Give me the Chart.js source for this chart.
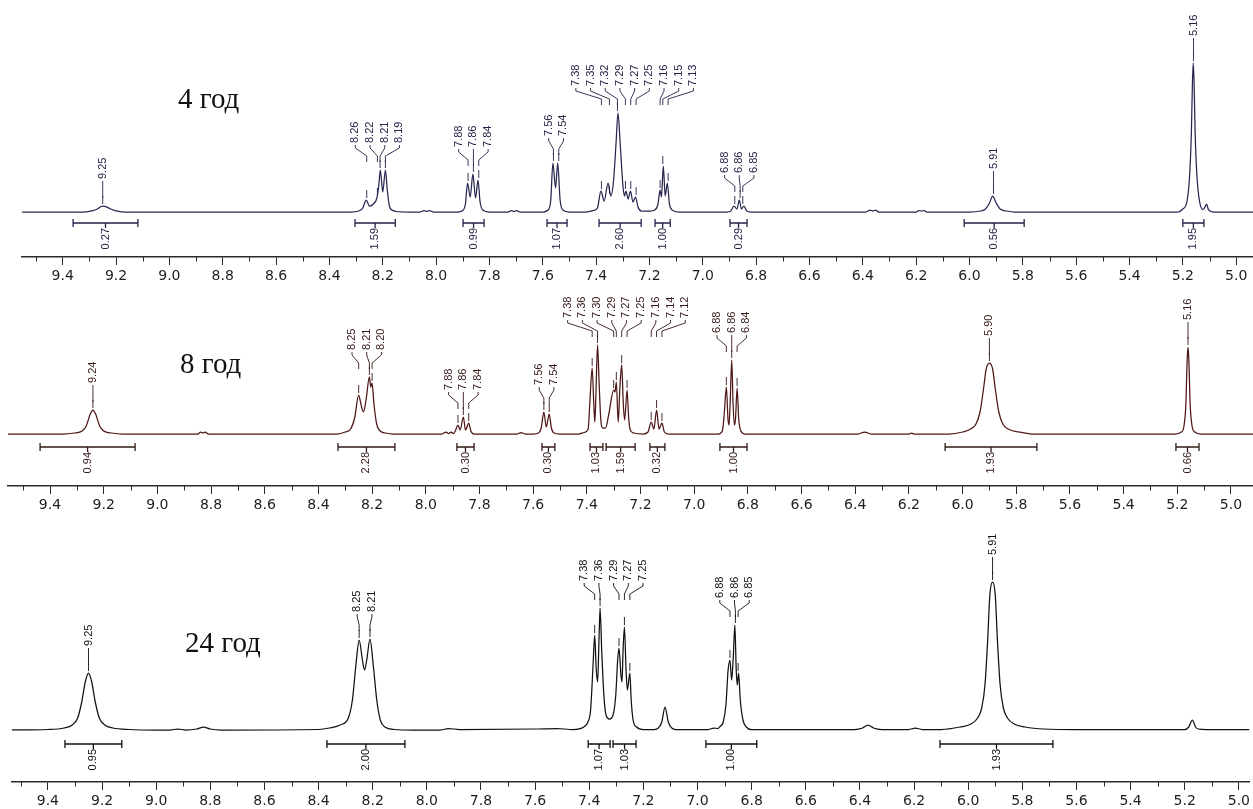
<!DOCTYPE html>
<html><head><meta charset="utf-8">
<script src="https://cdn.jsdelivr.net/npm/chart.js@4.4.1/dist/chart.umd.min.js"></script>
<style>
html,body{margin:0;padding:0;background:#fff;}
#wrap{position:relative;width:1253px;height:809px;overflow:hidden;background:#fff;}
canvas{position:absolute;left:0;}
.ttl{position:absolute;font-family:"Liberation Serif","Times New Roman",serif;font-size:29px;line-height:29px;color:#111;white-space:nowrap;}
</style></head><body>
<div id="wrap">
<canvas id="c1" width="1253" height="290" style="top:0px"></canvas>
<canvas id="c2" width="1253" height="246" style="top:270px"></canvas>
<canvas id="c3" width="1253" height="289" style="top:520px"></canvas>
<div class="ttl" style="left:178px;top:84px">4 год</div>
<div class="ttl" style="left:180px;top:349px">8 год</div>
<div class="ttl" style="left:185px;top:628px">24 год</div>
</div>
<script>
// ---- axis ticks (ppm) ----
const TICK_LABELS = ['9.4','9.2','9.0','8.8','8.6','8.4','8.2','8.0','7.8','7.6','7.4','7.2','7.0','6.8','6.6','6.4','6.2','6.0','5.8','5.6','5.4','5.2','5.0'];
const TICK_VALUES = TICK_LABELS.map(Number);
const MINOR_TICKS = [9.5,9.3,9.1,8.9,8.7,8.5,8.3,8.1,7.9,7.7,7.5,7.3,7.1,6.9,6.7,6.5,6.3,6.1,5.9,5.7,5.5,5.3,5.1];

// ---- spectrum 4 h: [ppm, intensity] ----
const SPEC_4H = [[9.56,0],[9.40,0],[9.33,0],[9.29,1.2],[9.27,3],[9.256,5.5],[9.248,6],[9.238,5.3],[9.22,3],[9.20,1.2],[9.16,0],
[8.60,0],[8.32,0],[8.29,1],[8.275,4],[8.262,12],[8.25,6],[8.235,8],[8.222,14],[8.215,26],[8.209,42],[8.2,20],[8.19,42],[8.183,22],[8.175,6],[8.165,2],[8.15,0.5],[8.1,0],
[8.06,0],[8.045,1.5],[8.035,0.6],[8.025,1.5],[8.01,0],
[7.92,0],[7.9,1.5],[7.89,8],[7.882,29],[7.872,15],[7.862,38],[7.852,14],[7.843,32],[7.835,10],[7.825,2],[7.80,0],
[7.73,0],[7.718,1.5],[7.708,0.5],[7.698,1.5],[7.685,0],
[7.6,0],[7.58,2],[7.57,12],[7.562,49],[7.552,24],[7.544,49],[7.535,12],[7.525,2],[7.5,0],
[7.44,0],[7.41,1.5],[7.395,4],[7.382,21],[7.37,11],[7.355,29],[7.345,16],[7.335,30],[7.325,70],[7.318,99],[7.31,70],[7.30,28],[7.294,16],[7.288,21],[7.28,13],[7.271,21],[7.262,10],[7.252,15],[7.243,5],[7.23,1],
[7.2,1],[7.18,2],[7.168,8],[7.16,22],[7.155,15],[7.148,46],[7.141,16],[7.133,29],[7.125,8],[7.115,2],[7.09,0],
[6.91,0],[6.895,1],[6.883,6],[6.872,3],[6.863,12],[6.855,3],[6.846,6],[6.835,1],[6.82,0],
[6.39,0],[6.372,2],[6.362,1],[6.352,2],[6.34,0],
[6.2,0],[6.19,1.5],[6.18,1],[6.17,1.5],[6.16,0],
[6.0,0],[5.96,1],[5.94,3],[5.925,9],[5.913,16],[5.9,9],[5.885,3],[5.86,1],[5.83,0],
[5.22,0],[5.20,3],[5.185,10],[5.175,35],[5.168,80],[5.164,130],[5.161,149],[5.158,130],[5.154,80],[5.147,35],[5.137,10],[5.125,2.5],[5.117,5],[5.111,8],[5.105,3],[5.095,0.5],[5.08,0],[4.93,0]];
const LABELS_4H = [[9.25],[8.26,8.22,8.21,8.19],[7.88,7.86,7.84],[7.56,7.54],[7.38,7.35,7.32,7.29,7.27,7.25,7.16,7.15,7.13],[6.88,6.86,6.85],[5.91],[5.16]];
const INTEGRALS_4H = [[9.361,9.118,'0.27'],[8.304,8.153,'1.59'],[7.899,7.820,'0.99'],[7.584,7.509,'1.07'],[7.389,7.231,'2.60'],[7.179,7.122,'1.00'],[6.898,6.834,'0.29'],[6.02,5.795,'0.56'],[5.20,5.121,'1.95']];

// ---- spectrum 8 h ----
const SPEC_8H = [[9.56,0],[9.35,0],[9.31,1],[9.28,3],[9.265,8],[9.25,20],[9.24,24],[9.23,20],[9.215,8],[9.2,3],[9.17,1],[9.13,0],
[8.85,0],[8.838,2],[8.83,1],[8.822,2],[8.81,0],
[8.33,0],[8.3,2],[8.28,5],[8.265,16],[8.25,39],[8.24,28],[8.232,22],[8.222,35],[8.21,57],[8.205,47],[8.2,51],[8.193,30],[8.183,10],[8.17,3],[8.15,1],[8.12,0],
[7.94,0],[7.925,2],[7.915,0.5],[7.905,2],[7.897,0.5],[7.89,3],[7.88,9],[7.872,4],[7.86,17],[7.852,4],[7.84,11],[7.832,3],[7.82,0],
[7.66,0],[7.645,1.5],[7.63,0],
[7.6,0],[7.58,1],[7.57,6],[7.56,22],[7.551,7],[7.54,20],[7.532,6],[7.522,1],[7.5,0],
[7.43,0],[7.41,1.5],[7.395,5],[7.389,30],[7.38,66],[7.374,30],[7.37,12],[7.366,40],[7.36,89],[7.354,50],[7.348,15],[7.34,6],[7.33,6],[7.318,20],[7.30,44],[7.295,42],[7.29,52],[7.283,12],[7.277,45],[7.27,69],[7.264,30],[7.259,14],[7.25,44],[7.244,16],[7.238,4],[7.225,1],
[7.19,0],[7.172,2],[7.16,12],[7.15,5],[7.14,24],[7.131,5],[7.12,11],[7.111,2],[7.095,0],
[6.91,0],[6.895,3],[6.888,20],[6.88,47],[6.874,15],[6.87,9],[6.866,30],[6.86,74],[6.855,30],[6.85,9],[6.846,15],[6.84,46],[6.834,15],[6.826,3],[6.81,0],
[6.39,0],[6.365,2],[6.34,0],[6.2,0],[6.19,0.8],[6.18,0],
[6.05,0],[6.0,2],[5.97,5],[5.95,10],[5.935,22],[5.922,45],[5.912,65],[5.9,71],[5.888,65],[5.878,45],[5.865,22],[5.85,10],[5.83,5],[5.79,2],[5.74,0],
[5.21,0],[5.185,2],[5.175,8],[5.168,30],[5.163,75],[5.16,87],[5.157,75],[5.152,30],[5.145,8],[5.135,2],[5.11,0],[4.91,0]];
const LABELS_8H = [[9.24],[8.25,8.21,8.20],[7.88,7.86,7.84],[7.56,7.54],[7.38,7.36,7.30,7.29,7.27,7.25,7.16,7.14,7.12],[6.88,6.86,6.84],[5.90],[5.16]];
const INTEGRALS_8H = [[9.437,9.083,'0.94'],[8.327,8.115,'2.28'],[7.884,7.820,'0.30'],[7.567,7.519,'0.30'],[7.388,7.340,'1.03'],[7.328,7.220,'1.59'],[7.165,7.109,'0.32'],[6.904,6.803,'1.00'],[6.065,5.723,'1.93'],[5.205,5.119,'0.66']];

// ---- spectrum 24 h ----
const SPEC_24H = [[9.54,0],[9.4,0.5],[9.34,2],[9.31,5],[9.29,12],[9.275,28],[9.262,48],[9.25,57],[9.238,48],[9.225,28],[9.21,12],[9.19,5],[9.16,2],[9.1,0.5],[9.0,0],
[8.95,0],[8.92,1],[8.89,0],[8.85,1],[8.825,3],[8.8,1],[8.76,0],
[8.4,0.5],[8.36,2],[8.32,5],[8.29,12],[8.275,30],[8.262,65],[8.25,90],[8.238,70],[8.23,60],[8.222,70],[8.21,91],[8.198,65],[8.185,30],[8.172,10],[8.155,3],[8.12,0.5],[8.05,0],
[7.95,0],[7.92,1.5],[7.88,0.5],[7.6,1],[7.52,1.5],
[7.46,0.5],[7.42,3],[7.405,8],[7.395,20],[7.385,70],[7.38,95],[7.374,60],[7.369,48],[7.364,90],[7.36,122],[7.354,80],[7.346,35],[7.338,15],[7.325,11],[7.312,15],[7.302,35],[7.295,70],[7.29,82],[7.283,55],[7.279,48],[7.275,80],[7.27,103],[7.264,60],[7.259,40],[7.25,57],[7.245,30],[7.238,10],[7.225,3],[7.2,0.5],
[7.16,0.5],[7.145,2],[7.132,8],[7.12,23],[7.108,8],[7.095,2],[7.08,0.5],
[6.96,0.5],[6.94,2],[6.925,1.5],[6.915,4],[6.905,8],[6.895,25],[6.887,60],[6.88,70],[6.874,50],[6.868,72],[6.862,105],[6.857,60],[6.853,45],[6.848,57],[6.842,30],[6.832,10],[6.82,3],[6.8,0.5],
[6.42,0.5],[6.39,2],[6.37,5],[6.35,2],[6.32,0.5],[6.22,0.5],[6.195,2],[6.17,0.5],
[6.1,0.5],[6.03,3],[5.99,6],[5.965,12],[5.95,22],[5.938,45],[5.928,90],[5.92,135],[5.91,148],[5.9,135],[5.892,90],[5.882,45],[5.87,22],[5.855,12],[5.83,6],[5.79,3],[5.72,1],[5.6,0.5],
[5.2,0.5],[5.185,3],[5.172,10],[5.16,3],[5.15,1],[5.12,0.5],[4.96,0.5]];
const LABELS_24H = [[9.25],[8.25,8.21],[7.38,7.36,7.29,7.27,7.25],[6.88,6.86,6.85],[5.91]];
const INTEGRALS_24H = [[9.337,9.127,'0.95'],[8.369,8.081,'2.00'],[7.404,7.323,'1.07'],[7.312,7.227,'1.03'],[6.969,6.781,'1.00'],[6.104,5.687,'1.93']];

// ---- panel layout / style ----
const AXIS_COLOR = '#2a2a2a';
const LABEL_GAP = 14.7;
const PANELS = [
  {id:'c1', spec:SPEC_4H, labels:LABELS_4H, ints:INTEGRALS_4H, xMax:9.5526, xMin:4.9370, padLeft:22, top:0, h:290, axisY:257, baseY:212, intOff:11, color:'#26264f', text:'#232348'},
  {id:'c2', spec:SPEC_8H, labels:LABELS_8H, ints:INTEGRALS_8H, xMax:9.5565, xMin:4.9179, padLeft:8, top:270, h:246, axisY:486, baseY:434, intOff:13, color:'#4d1515', text:'#351818'},
  {id:'c3', spec:SPEC_24H, labels:LABELS_24H, ints:INTEGRALS_24H, xMax:9.5326, xMin:4.9617, padLeft:12, top:520, h:289, axisY:782, baseY:730, intOff:14, color:'#111111', text:'#111111'}
];

function nearestH(spec, v){ let best = spec[0]; for (const p of spec){ if (Math.abs(p[0]-v) < Math.abs(best[0]-v)) best = p; } return best[1]; }

function nmrPlugin(P){
  return { id:'nmr_'+P.id, afterDatasetsDraw(chart){
    const ctx = chart.ctx, xs = chart.scales.x, ys = chart.scales.y, ca = chart.chartArea;
    ctx.save();
    // minor ticks
    ctx.strokeStyle = AXIS_COLOR; ctx.lineWidth = 1;
    MINOR_TICKS.forEach(v => {
      if (v < xs.min || v > xs.max) return;
      const px = Math.round(xs.getPixelForValue(v)) + 0.5;
      ctx.beginPath(); ctx.moveTo(px, ca.bottom); ctx.lineTo(px, ca.bottom + 4.5); ctx.stroke();
    });
    // integrals
    const yb = ys.getPixelForValue(0) + P.intOff;
    ctx.strokeStyle = P.text; ctx.fillStyle = P.text; ctx.lineWidth = 1.3;
    ctx.font = '11px "Liberation Sans", Arial, sans-serif';
    P.ints.forEach(([a,b,t]) => {
      const x1 = xs.getPixelForValue(a), x2 = xs.getPixelForValue(b), xm = (x1 + x2) / 2;
      ctx.beginPath();
      ctx.moveTo(x1, yb); ctx.lineTo(x2, yb);
      ctx.moveTo(x1, yb - 4); ctx.lineTo(x1, yb + 4);
      ctx.moveTo(x2, yb - 4); ctx.lineTo(x2, yb + 4);
      ctx.moveTo(xm, yb); ctx.lineTo(xm, yb + 5);
      ctx.stroke();
      ctx.save(); ctx.translate(xm, yb + 5); ctx.rotate(-Math.PI/2);
      ctx.textAlign = 'right'; ctx.textBaseline = 'middle'; ctx.fillText(t, 0, 0); ctx.restore();
    });
    // peak labels
    ctx.lineWidth = 0.9;
    P.labels.forEach(g => {
      const pk = g.map(v => ({v, px: xs.getPixelForValue(v), top: ys.getPixelForValue(nearestH(P.spec, v))}));
      const B = Math.min(...pk.map(q => q.top)) - 27;
      const n = pk.length;
      const cx = pk.reduce((s,q) => s + q.px, 0) / n;
      pk.forEach((q,i) => {
        const lx = n === 1 ? q.px : cx + (i - (n-1)/2) * LABEL_GAP;
        ctx.save(); ctx.translate(lx, B); ctx.rotate(-Math.PI/2);
        ctx.textAlign = 'left'; ctx.textBaseline = 'middle'; ctx.fillText(q.v.toFixed(2), 0, 0); ctx.restore();
        ctx.beginPath(); ctx.moveTo(lx, B + 2);
        if (n > 1){ ctx.lineTo(lx, B + 5); ctx.lineTo(q.px, B + 13); }
        ctx.lineTo(q.px, B + 19); ctx.stroke();
        ctx.beginPath(); ctx.moveTo(q.px, q.top - 10); ctx.lineTo(q.px, q.top - 2); ctx.stroke();
      });
    });
    ctx.restore();
  }};
}

PANELS.forEach(P => {
  new Chart(document.getElementById(P.id), {
    type: 'line',
    data: { datasets: [{
      data: P.spec.map(([x,y]) => ({x, y})),
      borderColor: P.color, borderWidth: 1.25, pointRadius: 0, fill: false,
      cubicInterpolationMode: 'monotone'
    }]},
    options: {
      responsive: false, animation: false, devicePixelRatio: 1, events: [],
      layout: { padding: { left: P.padLeft, right: 0, top: 0, bottom: 0 } },
      plugins: { legend: { display: false }, tooltip: { enabled: false }, title: { display: false } },
      scales: {
        x: {
          type: 'linear', reverse: true, min: P.xMin, max: P.xMax, offset: false,
          border: { display: true, color: AXIS_COLOR, width: 1.5 },
          grid: { display: true, drawOnChartArea: false, drawTicks: true, tickLength: 8, tickColor: AXIS_COLOR, tickWidth: 1 },
          ticks: { autoSkip: false, maxRotation: 0, minRotation: 0, padding: 3, color: '#1e1e1e', font: { family: 'DejaVu Sans', size: 14 },
                   callback: (v, i) => TICK_LABELS[i] },
          afterBuildTicks: s => { s.ticks = TICK_VALUES.map(v => ({value: v})); },
          afterFit: s => { s.height = P.h - (P.axisY - P.top); }
        },
        y: { display: false, min: -(P.axisY - P.baseY), max: P.baseY - P.top }
      }
    },
    plugins: [nmrPlugin(P)]
  });
});
</script>
</body></html>
